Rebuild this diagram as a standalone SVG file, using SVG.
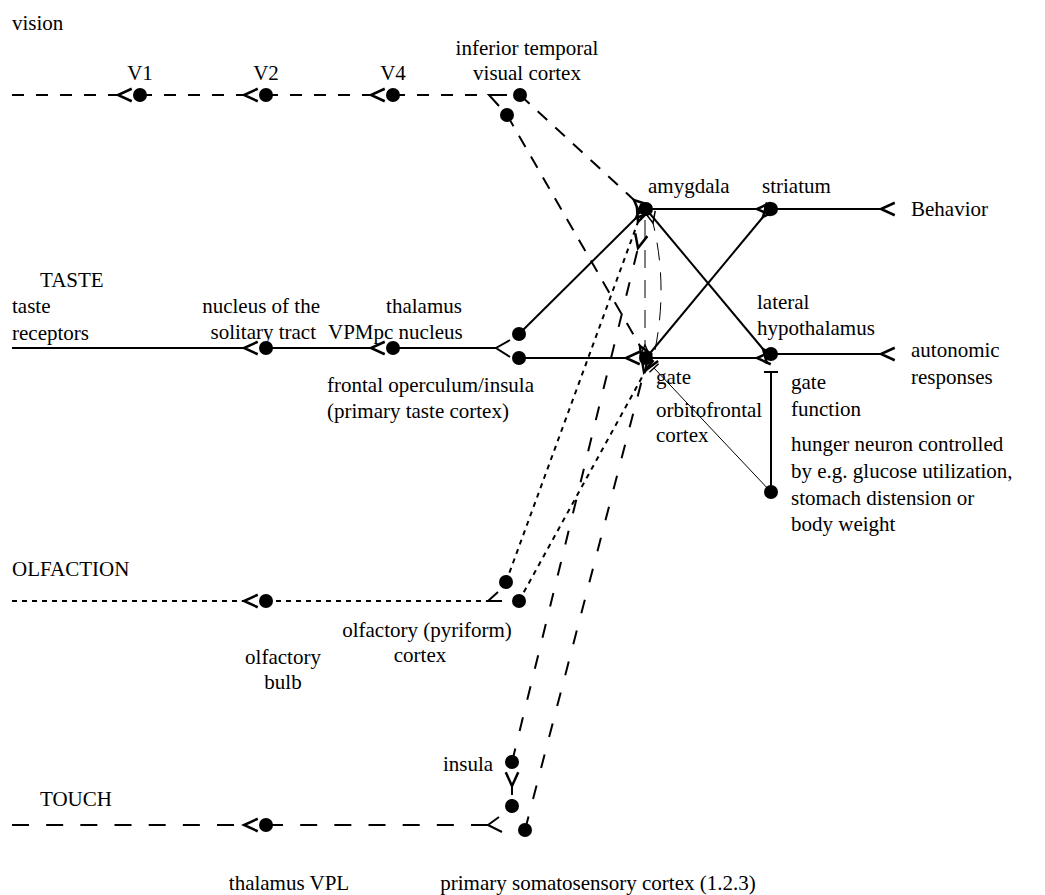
<svg xmlns="http://www.w3.org/2000/svg" width="1045" height="895" viewBox="0 0 1045 895">
<style>
text{font-family:"Liberation Serif","Times New Roman",serif;font-size:21px;fill:#000}
.s{stroke:#000;stroke-width:2;fill:none}
.t{stroke:#000;stroke-width:1;fill:none}
.d1{stroke-dasharray:12 12}
.d2{stroke-dasharray:13 11}
.d3{stroke-dasharray:14 18}
.d4{stroke-dasharray:17 17.17}
.dt{stroke-dasharray:5 5}
.dl{stroke-dasharray:18 12}
.dot{fill:#000}
</style>
<defs>
<marker id="ch" markerUnits="userSpaceOnUse" markerWidth="20" markerHeight="20" refX="0" refY="0" viewBox="-2 -8 16 16" orient="auto" overflow="visible">
<path d="M11,-5 L0,0 L11,5" fill="none" stroke="#000" stroke-width="2"/>
</marker>
<marker id="chs" markerUnits="userSpaceOnUse" markerWidth="20" markerHeight="20" refX="0" refY="0" viewBox="-2 -8 16 16" orient="auto" overflow="visible">
<path d="M9,-4 L0,0 L9,4" fill="none" stroke="#000" stroke-width="1.2"/>
</marker>
<marker id="bar" markerUnits="userSpaceOnUse" markerWidth="20" markerHeight="20" refX="0" refY="0" viewBox="-8 -8 16 16" orient="auto" overflow="visible">
<path d="M0,-5 L0,5" fill="none" stroke="#000" stroke-width="1.2"/>
</marker>
</defs>

<g id="labels">
<text x="12" y="30">vision</text>
<text x="40" y="287">TASTE</text>
<text x="12" y="576">OLFACTION</text>
<text x="40" y="806">TOUCH</text>
<text x="12" y="313">taste</text>
<text x="12" y="340">receptors</text>
</g>

<g id="connectors">
<line class="s d1" x1="12" y1="95" x2="118" y2="95" marker-end="url(#ch)"/>
<line class="s d1" x1="140" y1="95" x2="244" y2="95" marker-end="url(#ch)"/>
<line class="s d1" x1="266" y1="95" x2="371" y2="95" marker-end="url(#ch)"/>
<line class="s d1" x1="393" y1="95" x2="489" y2="95"/>
<path class="s" d="M507,95 L489,95 L499,106"/>
<line class="s d2" x1="520" y1="95" x2="634" y2="200" marker-end="url(#ch)"/>
<line class="s d2" x1="507" y1="115" x2="640" y2="346" marker-end="url(#ch)"/>
<line class="s" x1="12" y1="348" x2="244" y2="348" marker-end="url(#ch)"/>
<line class="s" x1="266" y1="348" x2="371" y2="348" marker-end="url(#ch)"/>
<line class="s" x1="393" y1="348" x2="496" y2="348"/>
<path class="s" d="M510,340 L496,348 L510,357"/>
<line class="s" x1="519" y1="334" x2="636" y2="218" marker-end="url(#ch)"/>
<line class="s" x1="519" y1="358" x2="626" y2="358" marker-end="url(#ch)"/>
<line class="s" x1="646" y1="209" x2="757" y2="209" marker-end="url(#ch)"/>
<line class="s" x1="771" y1="209" x2="881" y2="209" marker-end="url(#ch)"/>
<line class="s" x1="646" y1="358" x2="763" y2="217" marker-end="url(#ch)"/>
<line class="s" x1="646" y1="209" x2="763" y2="349" marker-end="url(#ch)"/>
<line class="s" x1="646" y1="358" x2="757" y2="358" marker-end="url(#ch)"/>
<line class="s" x1="771" y1="354" x2="881" y2="354" marker-end="url(#ch)"/>
<line class="s" x1="771" y1="372" x2="771" y2="492"/>
<line class="s" x1="764" y1="372" x2="778" y2="372"/>
<line class="t" x1="771" y1="492" x2="654" y2="368" marker-end="url(#bar)"/>
<line class="t dl" x1="645" y1="220" x2="645" y2="345" marker-end="url(#chs)"/>
<path class="t dl" d="M655,350 Q668,285 653,223" marker-end="url(#chs)"/>
<line class="s dt" x1="12" y1="601" x2="244" y2="601" marker-end="url(#ch)"/>
<line class="s dt" x1="266" y1="601" x2="488" y2="601"/>
<path class="s" d="M498,592 L488,601 L502,601"/>
<line class="s dt" x1="506" y1="582" x2="638" y2="222" marker-end="url(#ch)"/>
<line class="s dt" x1="519" y1="601" x2="646" y2="370" marker-end="url(#ch)"/>
<line class="s d4" x1="12" y1="825" x2="244" y2="825" marker-end="url(#ch)"/>
<line class="s d4" x1="266" y1="825" x2="488" y2="825"/>
<path class="s" d="M499,817 L488,825 L502,832"/>
<line class="s d3" x1="512" y1="762" x2="638" y2="248" marker-end="url(#ch)"/>
<line class="s d3" x1="525" y1="830" x2="644" y2="372" marker-end="url(#ch)"/>
<line class="s" x1="512" y1="795" x2="512" y2="786" marker-end="url(#ch)"/>
<line class="s" x1="512" y1="799" x2="512" y2="806"/>
</g>

<g id="n-v1"><circle class="dot" cx="140" cy="95" r="7"/><text x="140" y="80" text-anchor="middle">V1</text></g>
<g id="n-v2"><circle class="dot" cx="266" cy="95" r="7"/><text x="266" y="80" text-anchor="middle">V2</text></g>
<g id="n-v4"><circle class="dot" cx="393" cy="95" r="7"/><text x="393" y="80" text-anchor="middle">V4</text></g>
<g id="n-it"><circle class="dot" cx="520" cy="95" r="7"/><circle class="dot" cx="507" cy="115" r="7"/><text x="527" y="55" text-anchor="middle">inferior temporal</text><text x="527" y="80" text-anchor="middle">visual cortex</text></g>
<g id="n-nts"><circle class="dot" cx="266" cy="348" r="7"/><text x="320" y="313" text-anchor="end">nucleus of the</text><text x="316" y="339" text-anchor="end">solitary tract</text></g>
<g id="n-thal"><circle class="dot" cx="393" cy="348" r="7"/><text x="424" y="313" text-anchor="middle">thalamus</text><text x="328" y="339">VPMpc nucleus</text></g>
<g id="n-fo"><circle class="dot" cx="519" cy="334" r="7"/><circle class="dot" cx="519" cy="358" r="7"/><text x="327" y="392">frontal operculum/insula</text><text x="327" y="418">(primary taste cortex)</text></g>
<g id="n-amyg"><circle class="dot" cx="646" cy="209" r="7"/><text x="648" y="193">amygdala</text></g>
<g id="n-ofc"><circle class="dot" cx="646" cy="358" r="7"/><text x="656" y="384">gate</text><text x="656" y="417">orbitofrontal</text><text x="656" y="442">cortex</text></g>
<g id="n-str"><circle class="dot" cx="771" cy="209" r="7"/><text x="762" y="193">striatum</text></g>
<g id="n-beh"><text x="911" y="216">Behavior</text></g>
<g id="n-lh"><circle class="dot" cx="771" cy="354" r="7"/><text x="757" y="309">lateral</text><text x="757" y="335">hypothalamus</text><text x="791" y="389">gate</text><text x="791" y="416">function</text></g>
<g id="n-auto"><text x="911" y="357">autonomic</text><text x="911" y="384">responses</text></g>
<g id="n-hunger"><circle class="dot" cx="771" cy="492" r="7"/><text x="791" y="451">hunger neuron controlled</text><text x="791" y="478">by e.g. glucose utilization,</text><text x="791" y="505">stomach distension or</text><text x="791" y="531">body weight</text></g>
<g id="n-ob"><circle class="dot" cx="266" cy="601" r="7"/><text x="283" y="664" text-anchor="middle">olfactory</text><text x="283" y="689" text-anchor="middle">bulb</text></g>
<g id="n-pyr"><circle class="dot" cx="506" cy="582" r="7"/><circle class="dot" cx="519" cy="601" r="7"/><text x="427" y="637" text-anchor="middle">olfactory (pyriform)</text><text x="420" y="662" text-anchor="middle">cortex</text></g>
<g id="n-insula"><circle class="dot" cx="512" cy="762" r="7"/><text x="443" y="771">insula</text></g>
<g id="n-vpl"><circle class="dot" cx="266" cy="825" r="7"/><text x="289" y="890" text-anchor="middle">thalamus VPL</text></g>
<g id="n-si"><circle class="dot" cx="512" cy="806" r="7"/><circle class="dot" cx="525" cy="830" r="7"/><text x="598" y="890" text-anchor="middle">primary somatosensory cortex (1.2.3)</text></g>
</svg>
